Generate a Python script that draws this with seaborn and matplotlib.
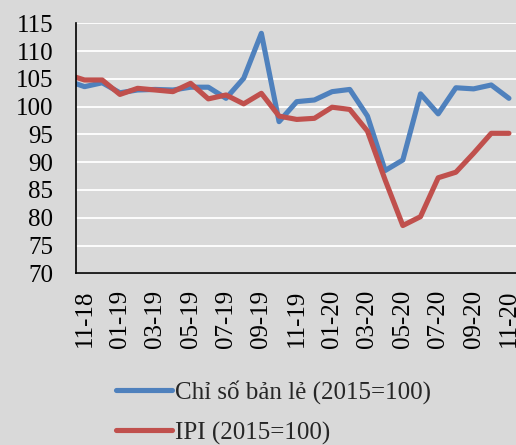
import numpy as np
import pandas as pd
import seaborn as sns
import matplotlib.pyplot as plt
from matplotlib.ticker import FixedLocator

# monthly data, 10-18 .. 11-20 (first point sits just left of the axis and gets clipped)
months = ['10-18', '11-18', '12-18',
          '01-19', '02-19', '03-19', '04-19', '05-19', '06-19',
          '07-19', '08-19', '09-19', '10-19', '11-19', '12-19',
          '01-20', '02-20', '03-20', '04-20', '05-20', '06-20',
          '07-20', '08-20', '09-20', '10-20', '11-20']
retail = [104.7, 103.6, 104.3,
          102.5, 103.0, 103.1, 103.0, 103.5, 103.5,
          101.5, 105.1, 113.2, 97.3, 100.9, 101.2,
          102.7, 103.1, 98.3, 88.5, 90.4, 102.3,
          98.7, 103.4, 103.2, 103.9, 101.5]
ipi = [105.8, 104.8, 104.8,
       102.2, 103.3, 103.0, 102.7, 104.2, 101.4,
       102.1, 100.5, 102.4, 98.3, 97.7, 97.9,
       99.9, 99.5, 95.6, 86.8, 78.6, 80.2,
       87.2, 88.2, 91.6, 95.2, 95.2]
series_names = ['Chỉ số bản lẻ (2015=100)', 'IPI (2015=100)']
colors = ['#4f81bd', '#c0504d']

pos = np.arange(len(months)) - 1
df = pd.DataFrame({
    'pos': np.concatenate([pos, pos]),
    'value': retail + ipi,
    'series': [series_names[0]] * len(months) + [series_names[1]] * len(months),
})

sns.set_style("white")
plt.rcParams['font.family'] = ['Liberation Serif', 'DejaVu Serif']

bg = '#d9d9d9'
fig = plt.figure(figsize=(5.16, 4.45), dpi=100, facecolor=bg)
ax = fig.add_axes([0.1467, 0.3858, 0.8533, 0.5618])
ax.set_facecolor(bg)

sns.lineplot(data=df, x='pos', y='value', hue='series', hue_order=series_names,
             palette=colors, linewidth=3.7, sort=False, ax=ax,
             solid_capstyle='round', solid_joinstyle='round')

ax.set_ylim(70, 115)
ax.set_xlim(-0.5, 24.4)
ax.set_yticks(np.arange(70, 116, 5))
ax.yaxis.grid(True, color='white', linewidth=1.3)
ax.set_axisbelow(True)

lab_pos = list(range(0, 25, 2))
ax.set_xticks(lab_pos)
ax.set_xticklabels([months[p + 1] for p in lab_pos], rotation=90)
ax.xaxis.set_minor_locator(FixedLocator(np.arange(-0.5, 24, 2)))
ax.tick_params(axis='x', which='major', length=0, pad=12, labelsize=18, colors='black')
ax.tick_params(axis='x', which='minor', length=4, width=1.2, color='black', direction='out')
ax.tick_params(axis='y', length=0, pad=16, labelsize=18, colors='black')
ax.set_xlabel('')
ax.set_ylabel('')

for s in ['top', 'right']:
    ax.spines[s].set_visible(False)
for s in ['left', 'bottom']:
    ax.spines[s].set_color('black')
    ax.spines[s].set_linewidth(1.2)

handles, labels = ax.get_legend_handles_labels()
if ax.legend_:
    ax.legend_.remove()

# one legend per row so the row spacing matches the reference
leg_y = [0.119, 0.027]
for h, lab, y in zip(handles, labels, leg_y):
    leg = fig.legend([h], [lab], loc='center left', bbox_to_anchor=(0.225, y),
                     frameon=False, fontsize=18, borderpad=0, borderaxespad=0,
                     handlelength=2.25, handletextpad=0.12)
    for ln in leg.get_lines():
        ln.set_linewidth(3.7)
        ln.set_solid_capstyle('round')

plt.savefig('out.png', dpi=100, facecolor=bg)
plt.close()
